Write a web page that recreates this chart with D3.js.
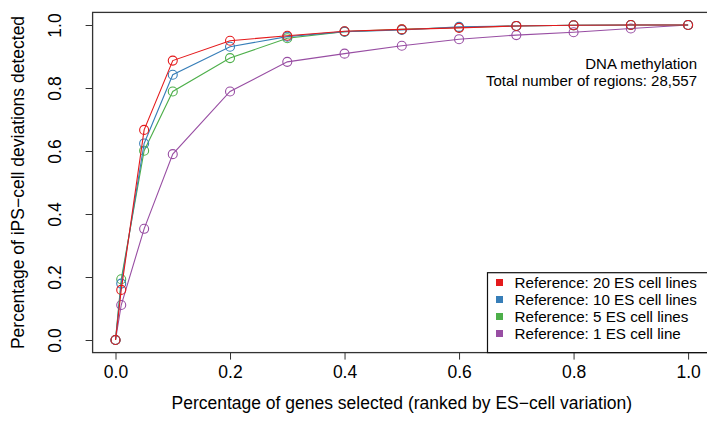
<!DOCTYPE html>
<html><head><meta charset="utf-8">
<script src="https://cdn.jsdelivr.net/npm/d3@7"></script>
<style>body{margin:0;background:#fff;} svg{display:block;} text{font-family:"Liberation Sans",Arial,sans-serif;fill:#000;}</style>
</head><body>
<svg id="c" width="707" height="439"></svg>
<script>
const xValues = [0, 0.01, 0.05, 0.1, 0.2, 0.3, 0.4, 0.5, 0.6, 0.7, 0.8, 0.9, 1.0];
const ref20 = [0, 0.159, 0.667, 0.887, 0.950, 0.966, 0.980, 0.986, 0.991, 0.997, 0.999, 1.0, 1.0];
const ref10 = [0, 0.179, 0.624, 0.842, 0.931, 0.963, 0.979, 0.984, 0.994, 0.997, 0.999, 1.0, 1.0];
const ref5  = [0, 0.193, 0.601, 0.789, 0.895, 0.958, 0.979, 0.986, 0.992, 0.997, 0.999, 1.0, 1.0];
const ref1  = [0, 0.111, 0.353, 0.590, 0.789, 0.883, 0.909, 0.934, 0.955, 0.968, 0.977, 0.989, 1.0];
const seriesNames = ["Reference: 20 ES cell lines","Reference: 10 ES cell lines","Reference: 5 ES cell lines","Reference: 1 ES cell line"];
const seriesColors = ["#E41A1C","#377EB8","#4DAF4A","#984EA3"];
const xTicks = [0, 0.2, 0.4, 0.6, 0.8, 1.0];
const yTicks = [0, 0.2, 0.4, 0.6, 0.8, 1.0];
const xTitle = "Percentage of genes selected (ranked by ES\u2212cell variation)";
const yTitle = "Percentage of iPS\u2212cell deviations detected";
const noteLines = ["DNA methylation","Total number of regions: 28,557"];

const series = [ref20, ref10, ref5, ref1];
const svg = d3.select("#c");
const x = d3.scaleLinear().domain([-0.04, 1.04]).range([92.6, 711]);
const y = d3.scaleLinear().domain([-0.04, 1.04]).range([352.6, 12.4]);

// axes
const xa = svg.append("g").attr("transform","translate(0,352.6)")
  .call(d3.axisBottom(x).tickValues(xTicks).tickFormat(d3.format(".1f")).tickSize(7).tickPadding(6));
xa.select(".domain").remove();
xa.selectAll("text").style("font-size","17.5px").attr("font-family","Liberation Sans, Arial");
xa.selectAll("line").attr("stroke","#333");

const ya = svg.append("g").attr("transform","translate(92.6,0)")
  .call(d3.axisLeft(y).tickValues(yTicks).tickFormat(d3.format(".1f")).tickSize(7));
ya.select(".domain").remove();
ya.selectAll("line").attr("stroke","#333");
ya.selectAll("text").remove();
ya.selectAll(".tick").append("text")
  .attr("transform","translate(-37.5,0) rotate(-90)")
  .attr("text-anchor","middle").attr("dy","0.35em")
  .style("font-size","17.5px").text(d => d3.format(".1f")(d));

// plot box
svg.append("rect").attr("x",92.6).attr("y",12.4).attr("width",711-92.6).attr("height",352.6-12.4)
  .attr("fill","none").attr("stroke","#333").attr("stroke-width",1.3);

// series: draw 1 ES first, 20 ES last
const order = [3,2,1,0];
const line = d3.line().x((d,i)=>x(xValues[i])).y(d=>y(d));
order.forEach(k => {
  const g = svg.append("g");
  g.append("path").datum(series[k]).attr("d", line).attr("fill","none")
    .attr("stroke", seriesColors[k]).attr("stroke-width",1.1);
  g.selectAll("circle").data(series[k]).join("circle")
    .attr("cx",(d,i)=>x(xValues[i])).attr("cy",d=>y(d)).attr("r",4.5)
    .attr("fill","none").attr("stroke",seriesColors[k]).attr("stroke-width",1.1);
});

// annotation
noteLines.forEach((t,i) => {
  svg.append("text").attr("x",697).attr("y",69 + i*17).attr("text-anchor","end")
    .style("font-size","15px").text(t);
});

// legend
svg.append("rect").attr("x",487.5).attr("y",272.7).attr("width",230).attr("height",352.6-272.7)
  .attr("fill","#fff").attr("stroke","#111").attr("stroke-width",1.2);
seriesNames.forEach((n,i) => {
  const cy = 282.5 + i*17;
  svg.append("rect").attr("x",496).attr("y",cy-3.5).attr("width",7).attr("height",7).attr("fill",seriesColors[i]);
  svg.append("text").attr("x",514.5).attr("y",cy).attr("dy","0.35em").style("font-size","15.2px").text(n);
});

// titles
svg.append("text").attr("x",401.8).attr("y",408.5).attr("text-anchor","middle").style("font-size","17.5px").text(xTitle);
svg.append("text").attr("transform","translate(24,182.5) rotate(-90)").attr("text-anchor","middle").style("font-size","17.5px").text(yTitle);
</script>
</body></html>
